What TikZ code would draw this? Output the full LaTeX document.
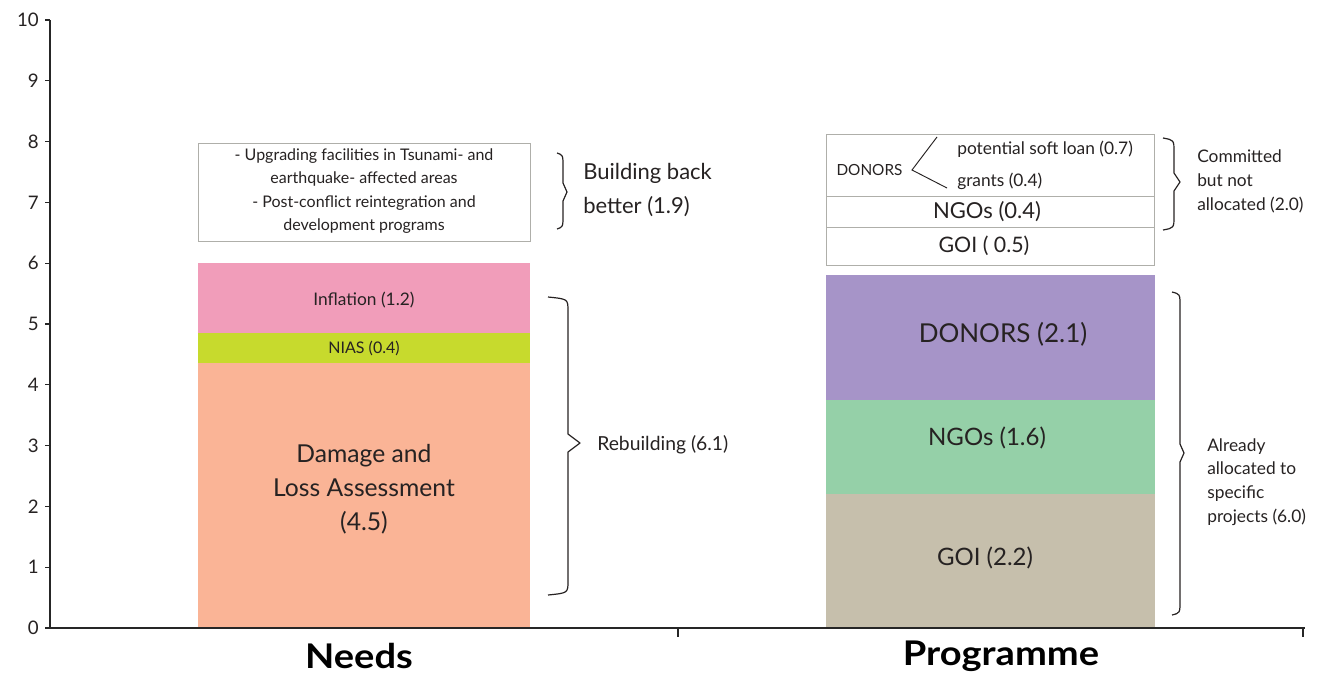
\documentclass[tikz,border=0pt]{standalone}
\usepackage{fontspec}
\setmainfont{Lato}
\definecolor{inflpink}{RGB}{241,157,186}
\definecolor{niasgreen}{RGB}{199,218,45}
\definecolor{dlasalmon}{RGB}{250,180,150}
\definecolor{donpurple}{RGB}{166,148,200}
\definecolor{ngogreen}{RGB}{149,208,168}
\definecolor{goitan}{RGB}{198,191,172}
\definecolor{ink}{RGB}{38,34,34}
\definecolor{frame}{RGB}{175,175,170}
\newcommand\fs[2]{\fontsize{#1}{#2}\selectfont}
% curly brace opening to the right: start x, spine x, tip x, top y, tip y, bottom y
\newcommand\curlybrace[6]{%
  \draw[bracestroke] (#1,#4) .. controls (#2,#4+2) .. (#2,#4+14) -- (#2,#5-9) -- (#3,#5)
    -- (#2,#5+9) -- (#2,#6-14) .. controls (#2,#6-2) .. (#1,#6);}
% wide bold category caption
\newcommand\widebold[1]{\scalebox{1.12}[1]{#1}}
\begin{document}
\begin{tikzpicture}[x=0.75pt,y=-0.75pt,
  every node/.style={text=ink,inner sep=0pt},
  axisline/.style={draw=black!85,line width=0.9pt},
  boxline/.style={draw=frame,line width=0.6pt},
  bracestroke/.style={draw=ink,line width=0.9pt,line join=round},
  ticklabel/.style={anchor=east,font=\fs{14}{16}},
  sidelabel/.style={anchor=west,align=left},
  barlabel/.style={align=center},
  catlabel/.style={font=\bfseries\fs{25.5}{30},text=black}]
\useasboundingbox (0,0) rectangle (1320,675);

% stacked bars: Needs
\fill[dlasalmon] (198,628) rectangle (530,363);
\fill[niasgreen] (198,363) rectangle (530,333);
\fill[inflpink]  (198,333) rectangle (530,263);
% stacked bars: Programme
\fill[goitan]    (826,628) rectangle (1155,494);
\fill[ngogreen]  (826,494) rectangle (1155,400);
\fill[donpurple] (826,400) rectangle (1155,275);

% axes
\draw[axisline] (50,628) -- (50,20);
\draw[axisline] (50,628) -- (1305,628);
\draw[axisline] (678,628) -- (678,637);
\draw[axisline] (1303,628) -- (1303,637);
\foreach \k in {0,...,10}{
  \pgfmathsetmacro\yy{628-60.8*\k}
  \draw[axisline] (45,\yy) -- (50,\yy);
  \node[ticklabel] (tick\k) at (39,\yy) {\k};
}

% Needs: building back better box
\draw[boxline,fill=white] (198,143) rectangle (530,241);
\node[barlabel,font=\fs{12}{17.5}] (bbbtext) at (364,191)
  {- Upgrading facilities in Tsunami- and\\earthquake- affected areas\\- Post-conflict reintegration and\\development programs};

% Programme: committed but not allocated boxes
\draw[boxline,fill=white] (826,134) rectangle (1154,265);
\draw[boxline] (826,196) -- (1154,196);
\draw[boxline] (826,227) -- (1154,227);
\node[anchor=east,inner xsep=7pt,font=\fs{11.5}{13}] (dsmall) at (912,170) {DONORS};
\coordinate (loanend) at (937,137);
\coordinate (grantend) at (947,188);
\draw[ink,line width=0.7pt] (loanend) -- (dsmall.east) -- (grantend);
\node[anchor=west,font=\fs{13}{15}] (loan) at (957,149) {potential soft loan (0.7)};
\node[anchor=west,font=\fs{13}{15}] (grants) at (957,181) {grants (0.4)};
\node[font=\fs{16.5}{19}] (ngotop) at (987,212) {NGOs (0.4)};
\node[font=\fs{16}{19}] (goitop) at (984,246) {GOI ( 0.5)};

% bar segment labels
\node[font=\fs{13}{15}] (infl) at (364,300) {Inflation (1.2)};
\node[font=\fs{12}{13}] (nias) at (364,348) {NIAS (0.4)};
\node[barlabel,font=\fs{18.5}{25.5}] (dla) at (364,489) {Damage and\\Loss Assessment\\(4.5)};
\node[font=\fs{19.5}{22}] (don) at (1003,334) {DONORS (2.1)};
\node[font=\fs{18}{21}] (ngo) at (987,438) {NGOs (1.6)};
\node[font=\fs{18}{21}] (goi) at (985,558) {GOI (2.2)};

% braces and their labels
\curlybrace{557}{563}{567}{153}{192}{229}
\node[sidelabel,font=\fs{16.5}{26}] (bbb) at (583,190) {Building back\\better (1.9)};
\curlybrace{548}{568}{580}{297}{443}{595}
\node[sidelabel,font=\fs{14.5}{17}] (rebuild) at (597,445) {Rebuilding (6.1)};
\curlybrace{1163}{1174}{1180}{138}{182}{230}
\node[sidelabel,font=\fs{13}{18}] (commit) at (1197,181) {Committed\\but not\\allocated (2.0)};
\curlybrace{1172}{1180}{1184}{292}{453}{615}
\node[sidelabel,font=\fs{13}{17.8}] (alloc) at (1207,482) {Already\\allocated to\\specific\\projects (6.0)};

% category labels
\node[catlabel] (needs) at (359,656) {\widebold{Needs}};
\node[catlabel] (prog) at (1001,656) {\widebold{Programme}};
\end{tikzpicture}
\end{document}
